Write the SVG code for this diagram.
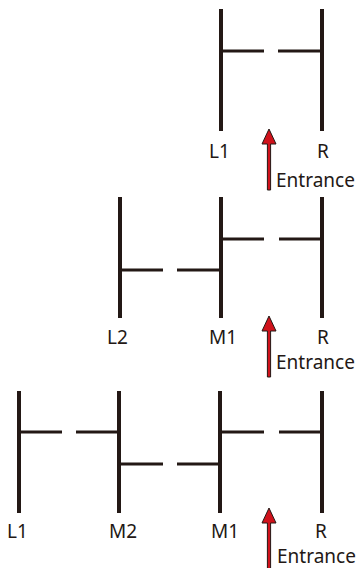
<svg xmlns="http://www.w3.org/2000/svg" width="357" height="568" viewBox="0 0 357 568">
<defs>
<style>
.v{stroke:#231815;stroke-width:4;fill:none}
.h{stroke:#231815;stroke-width:3;fill:none}
.arr{fill:#d0121b;stroke:#231815;stroke-width:1}
text{font-family:"Noto Sans","Open Sans",sans-serif;font-size:19px;fill:#231815}
</style>
<polygon id="arrow" class="arr" points="0,0 -7,15 -1.6,15 -1.6,61 1.6,61 1.6,15 7,15"/>
</defs>
<rect width="357" height="568" fill="#fff"/>
<g id="panel1">
<g id="p1-L1"><line class="v" x1="221" y1="9" x2="221" y2="131"/><text x="209" y="158">L1</text></g>
<g id="p1-R"><line class="v" x1="322" y1="9" x2="322" y2="131"/><text x="317" y="158">R</text></g>
<g id="p1-entrance"><use href="#arrow" x="269" y="129"/><text x="276" y="187">Entrance</text></g>
</g>
<g id="panel2">
<g id="p2-L2"><line class="v" x1="120" y1="197" x2="120" y2="318"/><text x="107" y="344">L2</text></g>
<g id="p2-M1"><line class="v" x1="221" y1="197" x2="221" y2="318"/><text x="209" y="344">M1</text></g>
<g id="p2-R"><line class="v" x1="322" y1="197" x2="322" y2="318"/><text x="317" y="344">R</text></g>
<g id="p2-entrance"><use href="#arrow" x="269" y="316"/><text x="276" y="369">Entrance</text></g>
</g>
<g id="panel3">
<g id="p3-L1"><line class="v" x1="19" y1="391" x2="19" y2="513"/><text x="7" y="538">L1</text></g>
<g id="p3-M2"><line class="v" x1="119" y1="391" x2="119" y2="513"/><text x="109" y="538">M2</text></g>
<g id="p3-M1"><line class="v" x1="220" y1="391" x2="220" y2="513"/><text x="211" y="538">M1</text></g>
<g id="p3-R"><line class="v" x1="322" y1="391" x2="322" y2="513"/><text x="315" y="538">R</text></g>
<g id="p3-entrance"><use href="#arrow" x="269" y="508"/><text x="277" y="563">Entrance</text></g>
</g>
<g id="connectors">
<line class="h" x1="221" y1="51" x2="264" y2="51"/>
<line class="h" x1="278" y1="51" x2="322" y2="51"/>
<line class="h" x1="221" y1="239" x2="264" y2="239"/>
<line class="h" x1="279" y1="239" x2="322" y2="239"/>
<line class="h" x1="120" y1="270" x2="163" y2="270"/>
<line class="h" x1="177" y1="270" x2="221" y2="270"/>
<line class="h" x1="19" y1="432" x2="62" y2="432"/>
<line class="h" x1="76" y1="432" x2="119" y2="432"/>
<line class="h" x1="220" y1="432" x2="264" y2="432"/>
<line class="h" x1="279" y1="432" x2="322" y2="432"/>
<line class="h" x1="119" y1="464" x2="163" y2="464"/>
<line class="h" x1="177" y1="464" x2="220" y2="464"/>
</g>
</svg>
